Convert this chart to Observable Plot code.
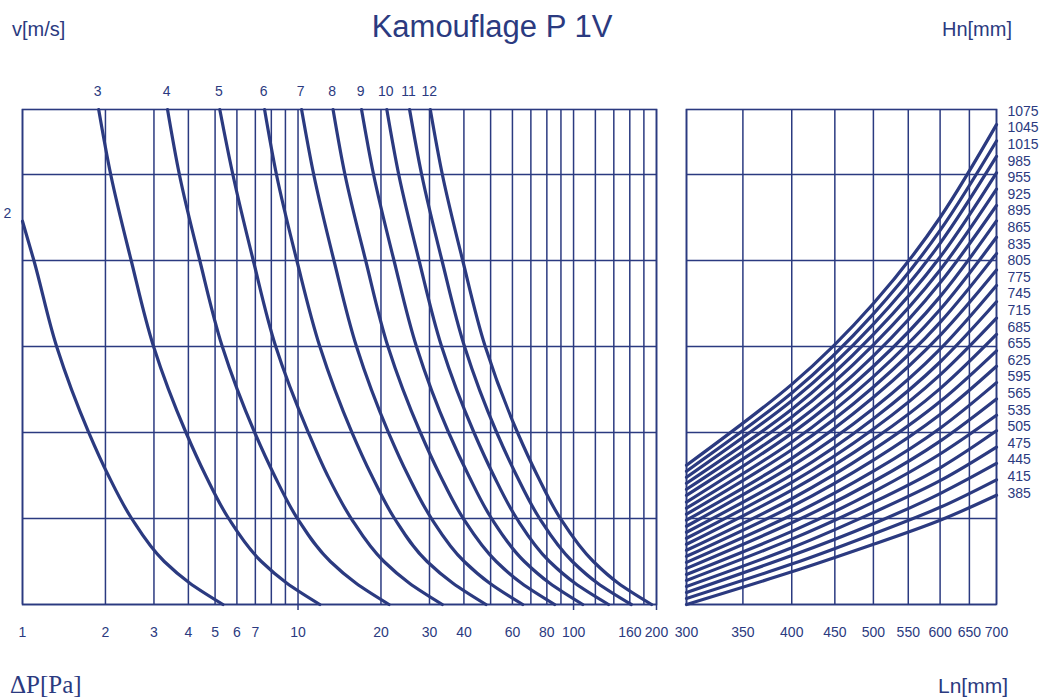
<!DOCTYPE html>
<html><head><meta charset="utf-8">
<script src="https://cdn.jsdelivr.net/npm/d3@7"></script>
<script src="https://cdn.jsdelivr.net/npm/@observablehq/plot@0.6"></script>
<style>
body{margin:0;background:#fff;}
#wrap{position:relative;width:1043px;height:698px;font-family:"Liberation Sans",Arial,sans-serif;color:#2b3a80;overflow:hidden;background:#fff}
.t{position:absolute;white-space:nowrap;line-height:1}
#left,#right{position:absolute;top:0}
#left{left:0}#right{left:670px}
</style></head><body>
<div id="wrap">
  <div class="t" id="title" style="left:492px;top:11px;font-size:31px;transform:translateX(-50%)">Kamouflage P 1V</div>
  <div class="t" style="left:12px;top:19px;font-size:20px">v[m/s]</div>
  <div class="t" style="right:31px;top:19px;font-size:20px">Hn[mm]</div>
  <div class="t" style="left:10px;top:672px;font-size:25px;font-family:'Liberation Serif','Times New Roman',serif">ΔP[Pa]</div>
  <div class="t" style="right:35px;top:675px;font-size:21px">Ln[mm]</div>
  <div id="left"></div>
  <div id="right"></div>
</div>
<script>
const C = "#2b3a80";

// ---- left panel: pressure drop curves per face velocity ----
const velocities = [2, 3, 4, 5, 6, 7, 8, 9, 10, 11, 12];
const uLevels   = [0, 0.25, 0.5, 1, 1.5, 2, 3, 4, 5, 5.756];
const uLevelsV2 = [0, 0.25, 0.5, 1, 1.5, 2, 3, 4, 4.457];
const dpByVelocity = [
  [5.34, 4.04, 3.27, 2.49, 2.05, 1.74, 1.33, 1.10, 1.0],
  [12.0, 9.09, 7.36, 5.60, 4.62, 3.92, 2.99, 2.48, 2.09, 1.89],
  [21.4, 16.2, 13.1, 9.95, 8.21, 6.96, 5.31, 4.40, 3.71, 3.36],
  [33.4, 25.3, 20.5, 15.6, 12.8, 10.9, 8.30, 6.88, 5.80, 5.20],
  [48.1, 36.4, 29.4, 22.4, 18.5, 15.7, 12.0, 9.90, 8.35, 7.56],
  [65.4, 49.5, 40.1, 30.5, 25.1, 21.3, 16.3, 13.5, 11.4, 10.3],
  [85.4, 64.6, 52.4, 39.8, 32.8, 27.8, 21.2, 17.6, 14.8, 13.4],
  [108, 81.8, 66.3, 50.4, 41.6, 35.2, 26.9, 22.3, 18.8, 17.0],
  [134, 101, 81.8, 62.2, 51.3, 43.5, 33.2, 27.5, 23.2, 21.0],
  [162, 122, 99.0, 75.3, 62.1, 52.6, 40.2, 33.3, 28.1, 25.4],
  [192, 145, 118, 89.6, 73.9, 62.6, 47.8, 39.6, 33.4, 30.2]
];
const leftGrid = [1,2,3,4,5,6,7,8,9,10,20,30,40,50,60,70,80,90,100,120,140,160,180,200];
const leftTickLabels = [1,2,3,4,5,6,7,10,20,30,40,60,80,100,160,200];
const leftLongTicks = [10, 100, 200];
const yGrid = [0, 1, 2, 3, 4, 5];
const yTop = 5.756;

// ---- right panel: size curves per height Hn ----
const lnValues = [300, 400, 500, 600, 700];
const lnGrid = [300, 350, 400, 450, 500, 550, 600, 650, 700];
const hnValues = [385,415,445,475,505,535,565,595,625,655,685,715,745,775,805,835,865,895,925,955,985,1015,1045,1075];
const hnCurves = [
  [0.00, 0.38, 0.70, 0.98, 1.27],
  [0.07, 0.47, 0.82, 1.13, 1.45],
  [0.14, 0.57, 0.94, 1.29, 1.64],
  [0.21, 0.66, 1.07, 1.44, 1.83],
  [0.28, 0.76, 1.19, 1.59, 2.02],
  [0.35, 0.85, 1.31, 1.75, 2.20],
  [0.42, 0.95, 1.43, 1.90, 2.39],
  [0.49, 1.04, 1.55, 2.05, 2.58],
  [0.56, 1.14, 1.68, 2.21, 2.77],
  [0.63, 1.23, 1.80, 2.36, 2.95],
  [0.70, 1.33, 1.92, 2.51, 3.14],
  [0.77, 1.42, 2.04, 2.67, 3.33],
  [0.84, 1.51, 2.16, 2.82, 3.52],
  [0.91, 1.61, 2.28, 2.97, 3.71],
  [0.98, 1.70, 2.41, 3.13, 3.89],
  [1.05, 1.80, 2.53, 3.28, 4.08],
  [1.12, 1.89, 2.65, 3.43, 4.27],
  [1.19, 1.99, 2.77, 3.58, 4.46],
  [1.27, 2.08, 2.89, 3.74, 4.64],
  [1.34, 2.18, 3.02, 3.89, 4.83],
  [1.41, 2.27, 3.14, 4.04, 5.02],
  [1.48, 2.37, 3.26, 4.20, 5.21],
  [1.55, 2.46, 3.38, 4.35, 5.39],
  [1.62, 2.56, 3.50, 4.50, 5.58]
];

const leftRows = velocities.flatMap((v, i) =>
  (v === 2 ? uLevelsV2 : uLevels).map((u, j) => ({v, u, dp: dpByVelocity[i][j]})));
const leftEnds = velocities.map((v, i) => {
  const us = v === 2 ? uLevelsV2 : uLevels;
  const k = us.length - 1;
  return {v, u: us[k], dp: dpByVelocity[i][k]};
});

const rightRows = hnValues.flatMap((h, i) => lnValues.map((ln, j) => ({h, ln, u: hnCurves[i][j]})));
const n = hnValues.length;
const bottomEnd = hnCurves[0][lnValues.length - 1];
const topEnd = hnCurves[n - 1][lnValues.length - 1];
const labelPos = d3.scaleLinear().domain([0, n - 1]).range([bottomEnd + 0.026, topEnd + 0.155]);
const rightLabels = hnValues.map((h, i) => ({h, ln: 700, u: labelPos(i)}));

const common = {
  height: 698, marginTop: 109, marginBottom: 94,
  y: {domain: [0, yTop], axis: null},
  style: {fontFamily: "'Liberation Sans', Arial, sans-serif", fontSize: "14px", color: C, background: "transparent", overflow: "visible"}
};
const gridStyle = {stroke: C, strokeOpacity: 1, strokeWidth: 1.5};
const tickText = {x: d => d, frameAnchor: "bottom", dy: 32, fill: C, fontSize: 14, text: d => String(d)};

const left = Plot.plot({
  ...common,
  width: 670, marginLeft: 22, marginRight: 14,
  x: {type: "log", domain: [1, 200], axis: null},
  marks: [
    Plot.gridX(leftGrid, gridStyle),
    Plot.gridY(yGrid, gridStyle),
    Plot.frame({stroke: C, strokeWidth: 1.6}),
    Plot.text(leftTickLabels, tickText),
    Plot.axisX(leftLongTicks, {tickSize: 6, tickFormat: () => "", label: null, stroke: C, strokeWidth: 1.5}),
    Plot.line(leftRows, {x: "dp", y: "u", z: "v", stroke: C, strokeWidth: 3.2, curve: "monotone-y"}),
    Plot.text(leftEnds.filter(d => d.v !== 2), {x: "dp", y: "u", text: d => String(d.v), dy: -18, dx: -1, fill: C, fontSize: 14}),
    Plot.text(leftEnds.filter(d => d.v === 2), {x: "dp", y: "u", text: d => String(d.v), dx: -15, dy: -8, fill: C, fontSize: 14})
  ]
});

const right = Plot.plot({
  ...common,
  width: 373, marginLeft: 16, marginRight: 47,
  x: {type: "log", domain: [300, 700], axis: null},
  marks: [
    Plot.gridX(lnGrid, gridStyle),
    Plot.gridY(yGrid, gridStyle),
    Plot.frame({stroke: C, strokeWidth: 1.6}),
    Plot.text(lnGrid, tickText),
    Plot.line(rightRows, {x: "ln", y: "u", z: "h", stroke: C, strokeWidth: 3.2, curve: "natural"}),
    Plot.text(rightLabels, {x: "ln", y: "u", text: d => String(d.h), dx: 11, textAnchor: "start", fill: C, fontSize: 14})
  ]
});

document.getElementById("left").appendChild(left);
document.getElementById("right").appendChild(right);
</script>
</body></html>
